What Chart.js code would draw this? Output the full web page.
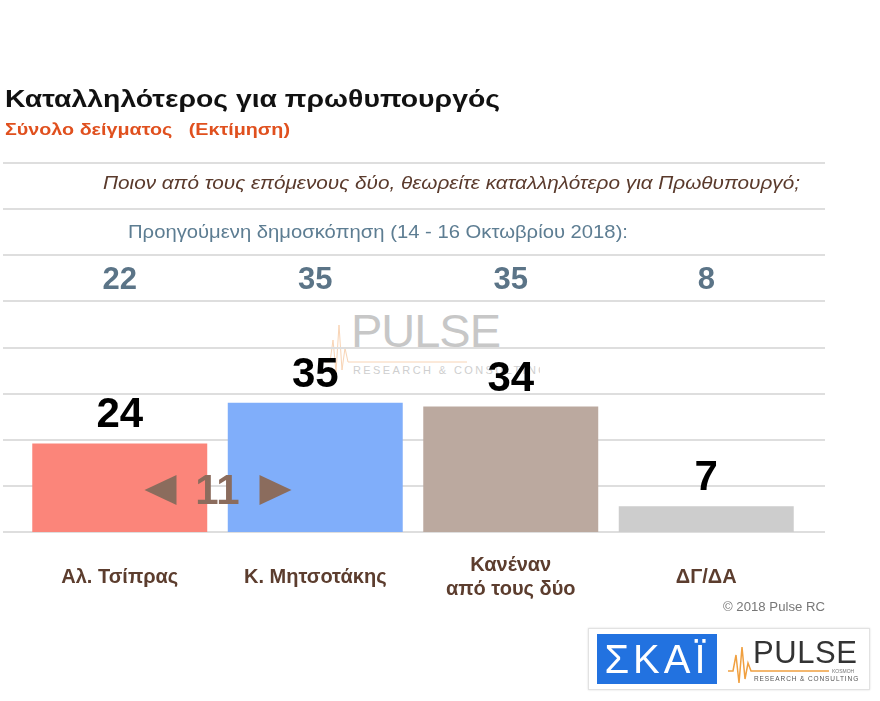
<!DOCTYPE html>
<html>
<head>
<meta charset="utf-8">
<script src="https://cdn.jsdelivr.net/npm/chart.js@4.4.0/dist/chart.umd.min.js"></script>
<style>
body{margin:0;background:#fff;font-family:"Liberation Sans",Arial,sans-serif;}
#caja{position:relative;width:880px;height:701px;overflow:hidden;}
#myChart{position:absolute;left:0;top:0;}
.txt{position:absolute;white-space:pre;line-height:1;transform-origin:0 50%;}
#titulo{left:5px;top:87px;font-size:24.5px;font-weight:bold;color:#111;}
#subtitulo{left:5px;top:121px;font-size:17px;font-weight:bold;color:#e0501e;}
#pregunta{left:103px;top:174px;font-size:18.5px;font-style:italic;color:#5a3a2c;}
#previa{left:128px;top:222px;font-size:19px;color:#5d7d92;}
#copy{left:723px;top:601px;font-size:12.5px;color:#777;}
#marca{position:absolute;left:320px;top:300px;width:220px;height:90px;opacity:0.55;}
#logo{position:absolute;left:588px;top:628px;width:280px;height:60px;border:1px solid #e2e2e2;box-shadow:0 0 2px #ddd;background:#fff;}
</style>
</head>
<body>
<div id="caja">
    <svg id="marca" viewBox="0 0 220 90">
        <polyline points="5,62 10,62 13,40 16,72 19,25 22,70 25,48 28,62 147,62" fill="none" stroke="#f4b27a" stroke-width="1"/>
        <text x="31" y="47" font-family="Liberation Sans" font-size="47" fill="#9a9a9a" letter-spacing="6" textLength="156">PULSE</text>
        <text x="33" y="74" font-family="Liberation Sans" font-size="11" fill="#a8a8a8" letter-spacing="2.4">RESEARCH &amp; CONSULTING</text>
    </svg>
    <canvas id="myChart" width="880" height="701"></canvas>
    <div class="txt" id="titulo" data-w="495">Καταλληλότερος για πρωθυπουργός</div>
    <div class="txt" id="subtitulo" data-w="285">Σύνολο δείγματος   (Εκτίμηση)</div>
    <div class="txt" id="pregunta" data-w="697">Ποιον από τους επόμενους δύο, θεωρείτε καταλληλότερο για Πρωθυπουργό;</div>
    <div class="txt" id="previa" data-w="500">Προηγούμενη δημοσκόπηση (14 - 16 Οκτωβρίου 2018):</div>
    <div class="txt" id="copy" data-w="102">© 2018 Pulse RC</div>
    <div id="logo">
        <svg width="280" height="60" viewBox="0 0 280 60">
            <rect x="8" y="5" width="120" height="50" fill="#2272e0"/>
            <text x="68" y="44" text-anchor="middle" font-family="Liberation Sans" font-size="40" fill="#fff" letter-spacing="4">ΣΚΑΪ</text>
            <polyline points="139,42 144,42 147,26 150,54 153,18 156,50 159,34 162,42 240,42" fill="none" stroke="#f0a040" stroke-width="1.5"/>
            <text x="164" y="34" font-family="Liberation Sans" font-size="31" fill="#333" letter-spacing="3" textLength="107">PULSE</text>
            <text x="243" y="44" font-family="Liberation Sans" font-size="5" fill="#777">KOSMOH</text>
            <text x="165" y="52" font-family="Liberation Sans" font-size="6.5" fill="#555" letter-spacing="0.9">RESEARCH &amp; CONSULTING</text>
        </svg>
    </div>
</div>
<script>
var categorias = ['Αλ. Τσίπρας', 'Κ. Μητσοτάκης', ['Κανέναν', 'από τους δύο'], 'ΔΓ/ΔΑ'];
var actual = [24, 35, 34, 7];
var anterior = [22, 35, 35, 8];
var colores = ['#fb857a', '#80aefa', '#bba99f', '#cdcdcd'];
var diferencia = 11;

// ajustar el ancho de los textos al de la imagen
document.querySelectorAll('.txt').forEach(function(el){
    var w = el.getBoundingClientRect().width;
    el.style.transform = 'scaleX(' + (el.dataset.w / w) + ')';
});

var lineas = {
    id: 'lineas',
    beforeDatasetsDraw: function(chart){
        var ctx = chart.ctx;
        var y = chart.scales.y;
        ctx.save();
        ctx.strokeStyle = '#dedede';
        ctx.lineWidth = 2;
        y.ticks.forEach(function(t){
            var py = Math.round(y.getPixelForValue(t.value));
            ctx.beginPath();
            ctx.moveTo(3, py);
            ctx.lineTo(825, py);
            ctx.stroke();
        });
        ctx.restore();
    },
    afterDatasetsDraw: function(chart){
        var ctx = chart.ctx;
        var x = chart.scales.x;
        var y = chart.scales.y;
        var meta = chart.getDatasetMeta(0);
        ctx.save();
        ctx.textAlign = 'center';
        ctx.textBaseline = 'alphabetic';
        // valores actuales encima de las barras
        ctx.fillStyle = '#000';
        ctx.font = 'bold 42px "Liberation Sans", Arial';
        meta.data.forEach(function(bar, i){
            ctx.fillText(actual[i], bar.x, bar.y - 16);
        });
        // valores de la encuesta anterior
        ctx.fillStyle = '#5b7487';
        ctx.font = 'bold 31px "Liberation Sans", Arial';
        meta.data.forEach(function(bar, i){
            ctx.fillText(anterior[i], bar.x, chart.chartArea.top + 126);
        });
        // diferencia entre los dos primeros
        var cx = x.getPixelForValue(0.5);
        var cy = y.getPixelForValue(0) - 42;
        ctx.fillStyle = '#8b6c5d';
        ctx.font = 'bold 42px "Liberation Sans", Arial';
        ctx.textBaseline = 'middle';
        ctx.fillText(diferencia, cx, cy + 2);
        ctx.beginPath();
        ctx.moveTo(cx - 73, cy);
        ctx.lineTo(cx - 41, cy - 15);
        ctx.lineTo(cx - 41, cy + 15);
        ctx.closePath();
        ctx.fill();
        ctx.beginPath();
        ctx.moveTo(cx + 74, cy);
        ctx.lineTo(cx + 42, cy - 15);
        ctx.lineTo(cx + 42, cy + 15);
        ctx.closePath();
        ctx.fill();
        ctx.restore();
    }
};

var chart = new Chart(document.getElementById('myChart'), {
    type: 'bar',
    data: {
        labels: categorias,
        datasets: [{
            label: 'Εκτίμηση',
            data: actual,
            backgroundColor: colores,
            borderWidth: 0,
            barPercentage: 0.895,
            categoryPercentage: 1
        }]
    },
    options: {
        responsive: false,
        animation: false,
        layout: {
            padding: {left: 22, right: 76, top: 163, bottom: 55}
        },
        plugins: {
            legend: {display: false},
            tooltip: {enabled: false}
        },
        scales: {
            x: {
                grid: {display: false, drawTicks: false},
                border: {display: false},
                ticks: {
                    color: '#5c3d2e',
                    font: {family: '"Liberation Sans", Arial', size: 20, weight: 'bold', lineHeight: 1.2},
                    padding: 33,
                    crossAlign: 'center',
                    maxRotation: 0,
                    autoSkip: false
                }
            },
            y: {
                display: false,
                min: 0,
                max: 100,
                ticks: {stepSize: 12.5}
            }
        }
    },
    plugins: [lineas]
});
</script>
</body>
</html>
